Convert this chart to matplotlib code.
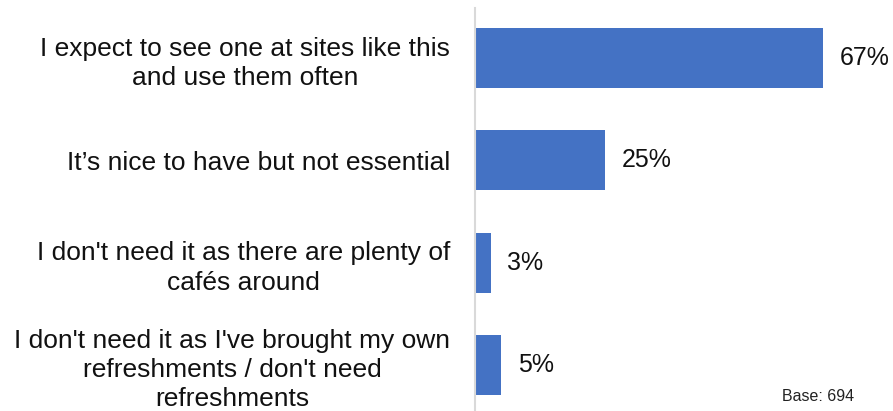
import matplotlib.pyplot as plt

plt.rcParams['font.family'] = ['Liberation Sans', 'DejaVu Sans']

answers = [
    "I expect to see one at sites like this\nand use them often",
    "It\u2019s nice to have but not essential",
    "I don't need it as there are plenty of\ncaf\u00e9s around",
    "I don't need it as I've brought my own\nrefreshments / don't need\nrefreshments",
]
shares = [67, 25, 3, 5]
base_n = 694

fig = plt.figure(figsize=(8.93, 4.11), dpi=100)
ax = fig.add_axes([475 / 893, 0, 415.5 / 893, 403 / 411])

pos = list(range(len(answers)))
ax.barh(pos, shares, height=0.587, color='#4472C4', zorder=2)

for p, v in zip(pos, shares):
    ax.text(v + 3.2, p, f"{v}%", va='center', ha='left', fontsize=18, color='#111111')

ax.set_xlim(0, 80)
ax.set_ylim(3.45, -0.49)
ax.set_yticks(pos)
ax.set_yticklabels(answers, fontsize=19, multialignment='center', color='#111111', linespacing=1.28)
ax.tick_params(axis='y', length=0, pad=18)
ax.set_xticks([])

for s in ['top', 'right', 'bottom']:
    ax.spines[s].set_visible(False)
ax.spines['left'].set_color('#d9d9d9')
ax.spines['left'].set_linewidth(1.5)

fig.text(854 / 893, 1 - 396 / 411, f"Base: {base_n}", ha='right', va='center', fontsize=11.5, color='#222222')

fig.savefig('out.png', dpi=100)
